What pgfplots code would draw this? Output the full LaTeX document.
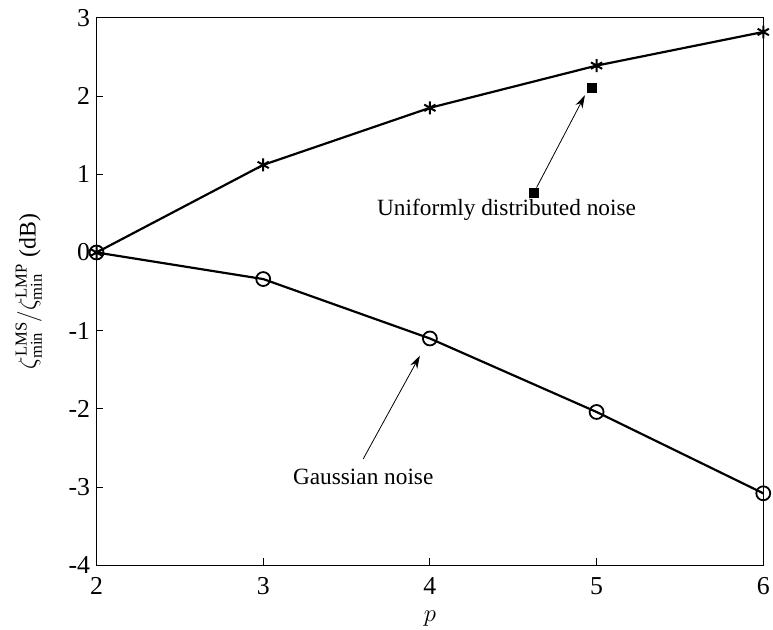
\documentclass[border=0pt]{standalone}
\usepackage{fontspec}
\setmainfont{Liberation Serif}
\usepackage{amsmath}
\usepackage{pgfplots}
\pgfplotsset{compat=1.18}
\usetikzlibrary{arrows.meta}

\begin{document}
\begin{tikzpicture}
\begin{axis}[
  scale only axis, width=670bp, height=550bp,
  xmin=2, xmax=6, ymin=-4, ymax=3,
  xtick={2,3,4,5,6}, ytick={-4,-3,-2,-1,0,1,2,3},
  tick align=inside, xtick pos=bottom, ytick pos=left,
  major tick length=7bp,
  axis line style={line width=1bp},
  every tick/.style={line width=1bp, black},
  /pgf/number format/assume math mode=true,
  tick label style={font=\fontsize{26}{30}\selectfont},
  xticklabel style={yshift=-9bp},
  yticklabel style={xshift=-3bp},
  label style={font=\fontsize{24}{28}\selectfont},
  xlabel={$p$},
  ylabel={$\zeta^{\text{LMS}}_{\min}/\zeta^{\text{LMP}}_{\min}$ (dB)},
  ylabel style={yshift=20bp},
  xlabel style={yshift=-9bp},
]
% uniformly distributed noise
\addplot[black, line width=2.2bp, mark=asterisk, mark size=6.5bp,
  mark options={line width=2bp}]
  coordinates {(2,0) (3,1.12) (4,1.85) (5,2.39) (6,2.82)};
% Gaussian noise
\addplot[black, line width=2.2bp, mark=o, mark size=7bp,
  mark options={line width=1.8bp}]
  coordinates {(2,0) (3,-0.34) (4,-1.1) (5,-2.04) (6,-3.08)};
% annotation end points
\addplot[only marks, mark=square*, mark size=4.5bp, black]
  coordinates {(4.97,2.11) (4.62,0.77)};

\draw[-{Stealth[length=13bp,width=8bp]}, line width=0.8bp]
  (axis cs:4.64,0.83) -- (axis cs:4.93,2.01);
\node[font=\fontsize{23.5}{27}\selectfont] at (axis cs:4.46,0.55)
  {Uniformly distributed noise};

\draw[-{Stealth[length=13bp,width=8bp]}, line width=0.8bp]
  (axis cs:3.6,-2.64) -- (axis cs:3.94,-1.32);
\node[font=\fontsize{23.5}{27}\selectfont] at (axis cs:3.6,-2.87)
  {Gaussian noise};
\end{axis}
\path ([shift={(-97bp,-64bp)}]current axis.south west)
  rectangle ([shift={(6bp,18bp)}]current axis.north east);
\end{tikzpicture}
\end{document}
